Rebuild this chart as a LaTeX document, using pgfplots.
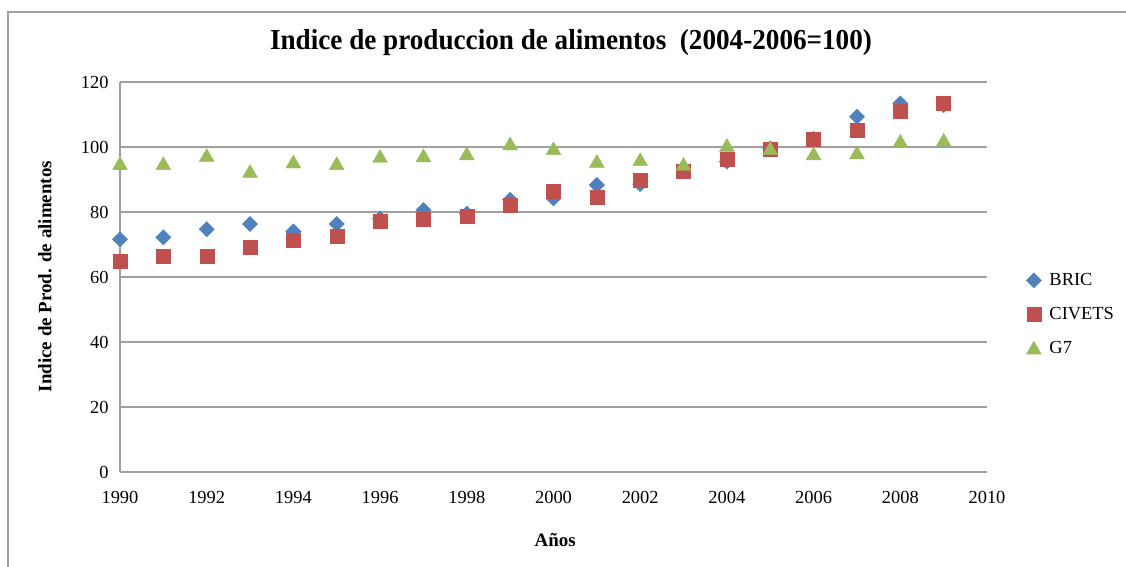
\documentclass[border=0pt]{standalone}
\usepackage{pgfplots}
\pgfplotsset{compat=1.18}
\usepackage{fontspec}
\setmainfont{Liberation Serif}
\definecolor{bric}{HTML}{4F81BD}
\definecolor{civets}{HTML}{C0504D}
\definecolor{gseven}{HTML}{9BBB59}
\definecolor{gridgray}{HTML}{A0A0A0}
\begin{document}
\begin{tikzpicture}
\useasboundingbox (0,0) rectangle (1126bp,567bp);
\draw[gridgray, line width=1.5bp] (8bp,0) -- (8bp,555bp) -- (1126bp,555bp);
\node[font=\fontsize{29}{32}\selectfont\bfseries] at (571bp,524bp) {\scalebox{0.94}[1]{Indice de produccion de alimentos\ \ (2004-2006=100)}};
\begin{axis}[
  at={(120bp,95bp)}, anchor=south west,
  scale only axis, width=867bp, height=390bp,
  xmin=1990, xmax=2010, ymin=0, ymax=120,
  xtick={1990,1992,...,2010}, ytick={0,20,...,120},
  x tick label style={/pgf/number format/1000 sep={}},
  /pgf/number format/assume math mode=true,
  tick label style={font=\fontsize{18.5}{20}\selectfont},
  major tick length=0pt,
  axis x line*=bottom, axis y line*=left,
  axis line style={gridgray, line width=1.2bp},
  ymajorgrids, xmajorgrids=false, grid style={gridgray, line width=1.2bp},
  xticklabel style={yshift=-16bp},
  yticklabel style={xshift=-8bp},
  xlabel={\textbf{Años}},
  ylabel={\textbf{Indice de Prod. de alimentos}},
  label style={font=\fontsize{19}{22}\selectfont},
  xlabel style={at={(axis description cs:0.502,-0.174)}, anchor=center},
  ylabel style={at={(axis description cs:-0.0865,0.501)}, anchor=center},
  legend style={at={(axis description cs:1.045,0.405)}, anchor=west, draw=none, fill=none,
    font=\fontsize{18.5}{20}\selectfont, row sep=16bp, inner sep=0pt,
    nodes={inner sep=2pt}},
  legend cell align=left,
  legend image code/.code={\draw[#1] plot coordinates {(0.0cm,0cm)};},
  legend style={every legend image post/.style={xshift=-2bp}},
]
\addplot[only marks, mark=square*, mark size=5.4bp, color=bric, mark options={rotate=45, fill=bric}] coordinates {
(1990,71.6) (1991,72.2) (1992,74.7) (1993,76.3) (1994,74.0) (1995,76.3) (1996,78.0) (1997,80.6) (1998,79.5) (1999,83.7)
(2000,84.2) (2001,88.3) (2002,88.6) (2003,93.0) (2004,95.5) (2005,99.5) (2006,102.5) (2007,109.3) (2008,113.4) (2009,112.9)};
\addlegendentry{\hspace{6bp}BRIC}
\addplot[only marks, mark=square*, mark size=7bp, color=civets, mark options={fill=civets}] coordinates {
(1990,64.9) (1991,66.3) (1992,66.3) (1993,69.1) (1994,71.4) (1995,72.4) (1996,77.2) (1997,77.7) (1998,78.8) (1999,82.0)
(2000,86.3) (2001,84.5) (2002,89.8) (2003,92.7) (2004,96.2) (2005,99.4) (2006,102.5) (2007,105.2) (2008,111.1) (2009,113.6)};
\addlegendentry{\hspace{6bp}CIVETS}
\addplot[only marks, mark=triangle*, mark size=8.6bp, color=gseven, mark options={fill=gseven, yshift=-2.1bp}] coordinates {
(1990,95.0) (1991,95.0) (1992,97.5) (1993,92.6) (1994,95.5) (1995,95.0) (1996,97.2) (1997,97.4) (1998,98.0) (1999,101.1)
(2000,99.6) (2001,95.7) (2002,96.2) (2003,94.8) (2004,100.6) (2005,99.6) (2006,98.0) (2007,98.3) (2008,101.9) (2009,102.2)};
\addlegendentry{\hspace{6bp}G7}
\end{axis}
\end{tikzpicture}
\end{document}
